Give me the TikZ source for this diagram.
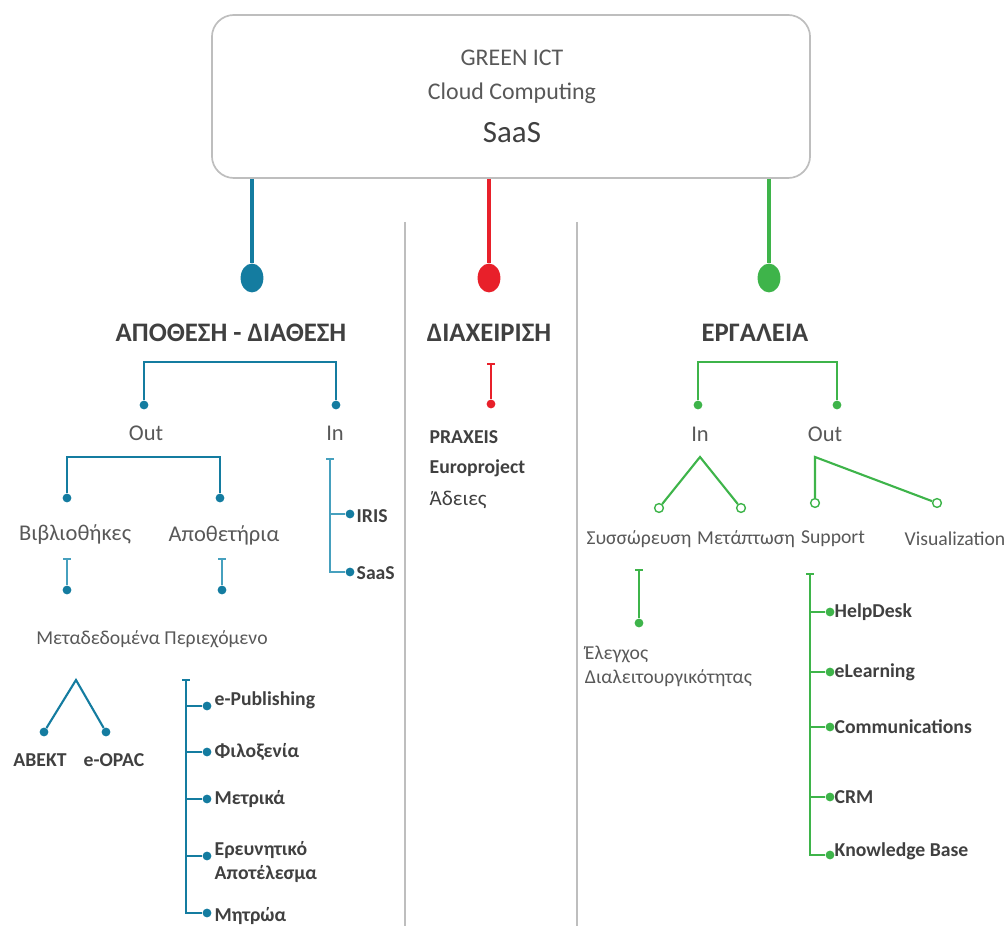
\documentclass[tikz,border=0pt]{standalone}
\usepackage{fontspec}
\setmainfont{Carlito}
\usetikzlibrary{arrows.meta,shapes.geometric}

\definecolor{blueline}{RGB}{20,124,160}
\definecolor{bluelight}{RGB}{70,160,190}
\definecolor{redline}{RGB}{232,32,42}
\definecolor{greenline}{RGB}{62,180,74}
\definecolor{txtgray}{RGB}{88,88,88}
\definecolor{headgray}{RGB}{64,64,64}
\definecolor{divgray}{RGB}{190,190,190}

\tikzset{
  topbox/.style={draw=divgray, line width=1.2pt, rounded corners=0.55cm, fill=white,
    minimum width=14.95cm, minimum height=4.075cm},
  heading/.style={text=headgray, font=\bfseries\fontsize{19}{22}\selectfont},
  mid/.style={text=txtgray, font=\fontsize{16}{19}\selectfont},
  small/.style={text=txtgray, font=\fontsize{14}{17}\selectfont},
  leaf/.style={text=headgray, font=\bfseries\fontsize{14}{17}\selectfont, anchor=west, inner sep=1pt},
  ball/.style={ellipse, fill, inner sep=0, minimum width=0.57cm, minimum height=0.72cm},
  dot/.style={circle, fill, inner sep=0, minimum size=0.22cm},
  ring/.style={circle, draw, fill=white, line width=1pt, inner sep=0, minimum size=0.22cm},
  stem/.style={line width=3.4pt},
  branch/.style={line width=1.5pt},
  tbar/.style={line width=1.3pt, {Bar[width=5pt]}-},
  divider/.style={draw=divgray, line width=2pt}
}

\begin{document}
\begin{tikzpicture}[x=0.025cm, y=-0.025cm]
\useasboundingbox (0,0) rectangle (1008,926);

% top box
\node[topbox] (top) at (511,96.5) {};
\node[text=txtgray, font=\fontsize{17}{20}\selectfont] (green) at (512,58) {GREEN ICT};
\node[text=txtgray, font=\fontsize{17}{20}\selectfont] (cloud) at (512,93) {Cloud Computing};
\node[text=headgray, font=\fontsize{22}{26}\selectfont] (saastop) at (512,133) {SaaS};

% stems
\node[ball, blueline] (bball) at (252,278) {};
\node[ball, redline] (rball) at (489,278) {};
\node[ball, greenline] (gball) at (769,278) {};
\draw[stem, blueline] (top.south -| bball) -- (bball);
\draw[stem, redline] (top.south -| rball) -- (rball);
\draw[stem, greenline] (top.south -| gball) -- (gball);

% dividers
\draw[divider] (405,222) -- (405,926);
\draw[divider] (577,222) -- (577,926);

% headings
\node[heading] (h1) at (231,333) {ΑΠΟΘΕΣΗ - ΔΙΑΘΕΣΗ};
\node[heading] (h2) at (489,333) {ΔΙΑΧΕΙΡΙΣΗ};
\node[heading] (h3) at (755,333) {ΕΡΓΑΛΕΙΑ};

% blue tree
\begin{scope}[blueline]
  \coordinate (bbr) at (240,362);
  \node[dot] (bout) at (144,405) {};
  \node[dot] (bin) at (336,405) {};
  \draw[branch] (bout) |- (bbr) -| (bin);
  \node[mid] (out) at (146,433) {Out};
  \node[mid] (in) at (335,433) {In};

  \coordinate (obr) at (140,457);
  \node[dot] (dbib) at (67,498) {};
  \node[dot] (dapo) at (220,498) {};
  \draw[branch] (dbib) |- (obr) -| (dapo);
  \node[mid] (bib) at (75,535) {Βιβλιοθήκες};
  \node[mid] (apo) at (224,535) {Αποθετήρια};

  \coordinate (t1) at (67,558);
  \coordinate (t2) at (222,558);
  \node[dot] (d1) at (67,590) {};
  \node[dot] (d2) at (222,590) {};
  \draw[tbar, bluelight] (t1) -- (d1);
  \draw[tbar, bluelight] (t2) -- (d2);
  \node[small] (meta) at (152,639) {Μεταδεδομένα Περιεχόμενο};

  \coordinate (lam) at (76,680);
  \node[dot] (dab) at (44,732) {};
  \node[dot] (dop) at (106,732) {};
  \draw[branch] (dab) -- (lam) -- (dop);
  \node[leaf, anchor=center] (abekt) at (40,760) {ΑΒΕΚΤ};
  \node[leaf, anchor=center] (opac) at (114,760) {e-OPAC};

  \coordinate (t3) at (186,679);
  \node[dot] (c1) at (207,706) {};
  \node[dot] (c2) at (207,752) {};
  \node[dot] (c3) at (207,799) {};
  \node[dot] (c4) at (207,856) {};
  \node[dot] (c5) at (207,913) {};
  \draw[tbar] (t3) |- (c5);
  \draw[branch] (t3 |- c1) -- (c1);
  \draw[branch] (t3 |- c2) -- (c2);
  \draw[branch] (t3 |- c3) -- (c3);
  \draw[branch] (t3 |- c4) -- (c4);
  \node[leaf] (epub) at (213,700) {e-Publishing};
  \node[leaf] (filo) at (213,752) {Φιλοξενία};
  \node[leaf] (metr) at (213,799) {Μετρικά};
  \node[leaf, align=left] (ereu) at (213,862) {Ερευνητικό\\Αποτέλεσμα};
  \node[leaf] (mitr) at (213,916) {Μητρώα};

  \coordinate (t4) at (330,458);
  \node[dot] (iris) at (350,514) {};
  \node[dot] (saasin) at (350,572) {};
  \draw[tbar, bluelight] (t4) |- (saasin);
  \draw[branch, bluelight] (t4 |- iris) -- (iris);
  \node[leaf] (irisl) at (355,516) {IRIS};
  \node[leaf] (saasl) at (355,573) {SaaS};
\end{scope}

% red tree
\coordinate (t5) at (491,363);
\node[dot, redline] (rd) at (491,404) {};
\draw[tbar, redline] (t5) -- (rd);
\node[leaf] (praxeis) at (428,437) {PRAXEIS};
\node[leaf] (europ) at (428,468) {Europroject};
\node[leaf, font=\fontsize{15}{18}\selectfont] (adeies) at (428,500) {Άδειες};

% green tree
\begin{scope}[greenline]
  \coordinate (gbr) at (760,362);
  \node[dot] (gin) at (698,405) {};
  \node[dot] (gout) at (837,405) {};
  \draw[branch] (gin) |- (gbr) -| (gout);
  \node[mid] (inl) at (700,434) {In};
  \node[mid] (outl) at (825,434) {Out};

  \coordinate (ga) at (700,457);
  \node[ring] (rsys) at (659,508) {};
  \node[ring] (rmet) at (741,508) {};
  \draw[branch] (rsys) -- (ga) -- (rmet);
  \coordinate (gb) at (815,457);
  \node[ring] (rsup) at (815,503) {};
  \node[ring] (rvis) at (937,503) {};
  \draw[branch] (rsup) -- (gb) -- (rvis);
  \node[small] (sys) at (639,539) {Συσσώρευση};
  \node[small] (met) at (746,539) {Μετάπτωση};
  \node[small] (sup) at (833,539) {Support};
  \node[small] (vis) at (955,539) {Visualization};

  \coordinate (t6) at (639,569);
  \node[dot] (gd) at (639,623) {};
  \draw[tbar] (t6) -- (gd);
  \node[small, anchor=west, align=left] (elx) at (580,666) {Έλεγχος\\Διαλειτουργικότητας};

  \coordinate (t7) at (810,573);
  \node[dot] (s1) at (830,612) {};
  \node[dot] (s2) at (830,672) {};
  \node[dot] (s3) at (830,727) {};
  \node[dot] (s4) at (830,797) {};
  \node[dot] (s5) at (830,855) {};
  \draw[tbar] (t7) |- (s5);
  \draw[branch] (t7 |- s1) -- (s1);
  \draw[branch] (t7 |- s2) -- (s2);
  \draw[branch] (t7 |- s3) -- (s3);
  \draw[branch] (t7 |- s4) -- (s4);
  \node[leaf] (help) at (833,612) {HelpDesk};
  \node[leaf] (elearn) at (833,672) {eLearning};
  \node[leaf] (comm) at (833,727) {Communications};
  \node[leaf] (crm) at (833,797) {CRM};
  \node[leaf] (know) at (833,851) {Knowledge Base};
\end{scope}
\end{tikzpicture}
\end{document}
